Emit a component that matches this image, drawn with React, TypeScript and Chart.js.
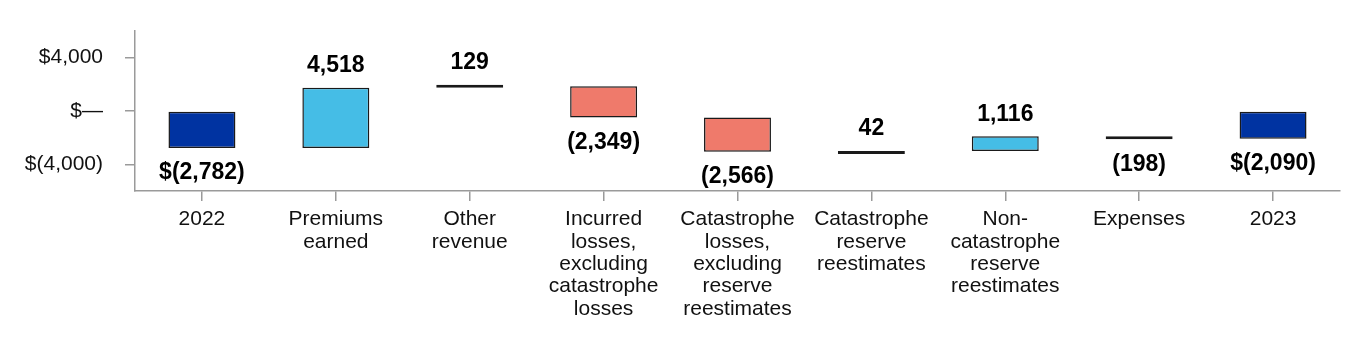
import React, { useEffect, useRef } from "react";
import { Chart, registerables } from "chart.js";

Chart.register(...registerables);

const categories: (string | string[])[] = [
  "2022",
  ["Premiums", "earned"],
  ["Other", "revenue"],
  ["Incurred", "losses,", "excluding", "catastrophe", "losses"],
  ["Catastrophe", "losses,", "excluding", "reserve", "reestimates"],
  ["Catastrophe", "reserve", "reestimates"],
  ["Non-", "catastrophe", "reserve", "reestimates"],
  "Expenses",
  "2023",
];
const changes = [-2782, 4518, 129, -2349, -2566, 42, 1116, -198, -2090];
const isTotal = [true, false, false, false, false, false, false, false, true];
const yTickValues = [-4000, 0, 4000];

const barColors = ["#0033A1", "#45BDE6", "#111111", "#EF7A6B", "#EF7A6B", "#111111", "#45BDE6", "#111111", "#0033A1"];

const FONT = "'Liberation Sans', Arial, Helvetica, sans-serif";

function buildRanges(): [number, number][] {
  const out: [number, number][] = [];
  let run = 0;
  changes.forEach((c, i) => {
    if (isTotal[i]) {
      out.push([0, c]);
      run = c;
    } else {
      out.push([run, run + c]);
      run += c;
    }
  });
  return out;
}

function fmt(v: number, dollar: boolean): string {
  const s = Math.abs(v).toLocaleString("en-US");
  const pre = dollar ? "$" : "";
  return v < 0 ? `${pre}(${s})` : `${pre}${s}`;
}

const labelPlugin = {
  id: "wfLabels",
  afterDatasetsDraw(chart: any) {
    const ctx = chart.ctx;
    const meta = chart.getDatasetMeta(0);
    ctx.save();
    ctx.font = `bold 23px ${FONT}`;
    ctx.fillStyle = "#000";
    ctx.textAlign = "center";
    ctx.textBaseline = "middle";
    meta.data.forEach((el: any, i: number) => {
      const top = Math.min(el.y, el.base);
      const bottom = Math.max(el.y, el.base);
      const v = changes[i];
      const text = fmt(v, isTotal[i]);
      if (v >= 0) ctx.fillText(text, el.x, top - 22);
      else ctx.fillText(text, el.x, bottom + 25);
    });
    ctx.restore();
  },
};

export default function App() {
  const ref = useRef<HTMLCanvasElement>(null);
  useEffect(() => {
    if (!ref.current) return;
    const chart = new Chart(ref.current, {
      type: "bar",
      data: {
        labels: categories,
        datasets: [
          {
            data: buildRanges() as any,
            backgroundColor: barColors,
            borderColor: "#1a1a1a",
            borderWidth: 1.5,
            borderSkipped: false,
            barPercentage: 0.5,
            categoryPercentage: 1,
            minBarLength: 3,
          },
        ],
      },
      options: {
        animation: false,
        responsive: true,
        maintainAspectRatio: false,
        layout: { padding: { left: 0, right: 20, top: 23, bottom: 0 } },
        plugins: { legend: { display: false }, tooltip: { enabled: false } },
        scales: {
          x: {
            offset: true,
            grid: { offset: false, drawOnChartArea: false, drawTicks: true, tickLength: 10, color: "#9a9a9a", lineWidth: 1.5 },
            border: { display: true, color: "#9a9a9a", width: 1.5 },
            ticks: { color: "#111", font: { family: FONT, size: 21, lineHeight: 1.07 }, padding: 7, maxRotation: 0, autoSkip: false },
            afterFit: (s: any) => {
              s.height = 157;
            },
          },
          y: {
            min: -6000,
            max: 6000,
            afterBuildTicks: (s: any) => {
              s.ticks = yTickValues.map((v) => ({ value: v }));
            },
            grid: { drawOnChartArea: false, drawTicks: true, tickLength: 10, color: "#9a9a9a", lineWidth: 1.5 },
            border: { display: true, color: "#9a9a9a", width: 1.5 },
            ticks: {
              color: "#111",
              font: { family: FONT, size: 21 },
              padding: 22,
              callback: (v: any) => (v === 0 ? "$\u2014" : fmt(Number(v), true)),
            },
            afterFit: (s: any) => {
              s.width = 127;
              s.paddingTop = 0;
              s.paddingBottom = 0;
            },
          },
        },
      },
      plugins: [labelPlugin],
    });
    return () => chart.destroy();
  }, []);
  return (
    <div style={{ width: 1352, height: 340, position: "relative" }}>
      <canvas ref={ref} />
    </div>
  );
}
